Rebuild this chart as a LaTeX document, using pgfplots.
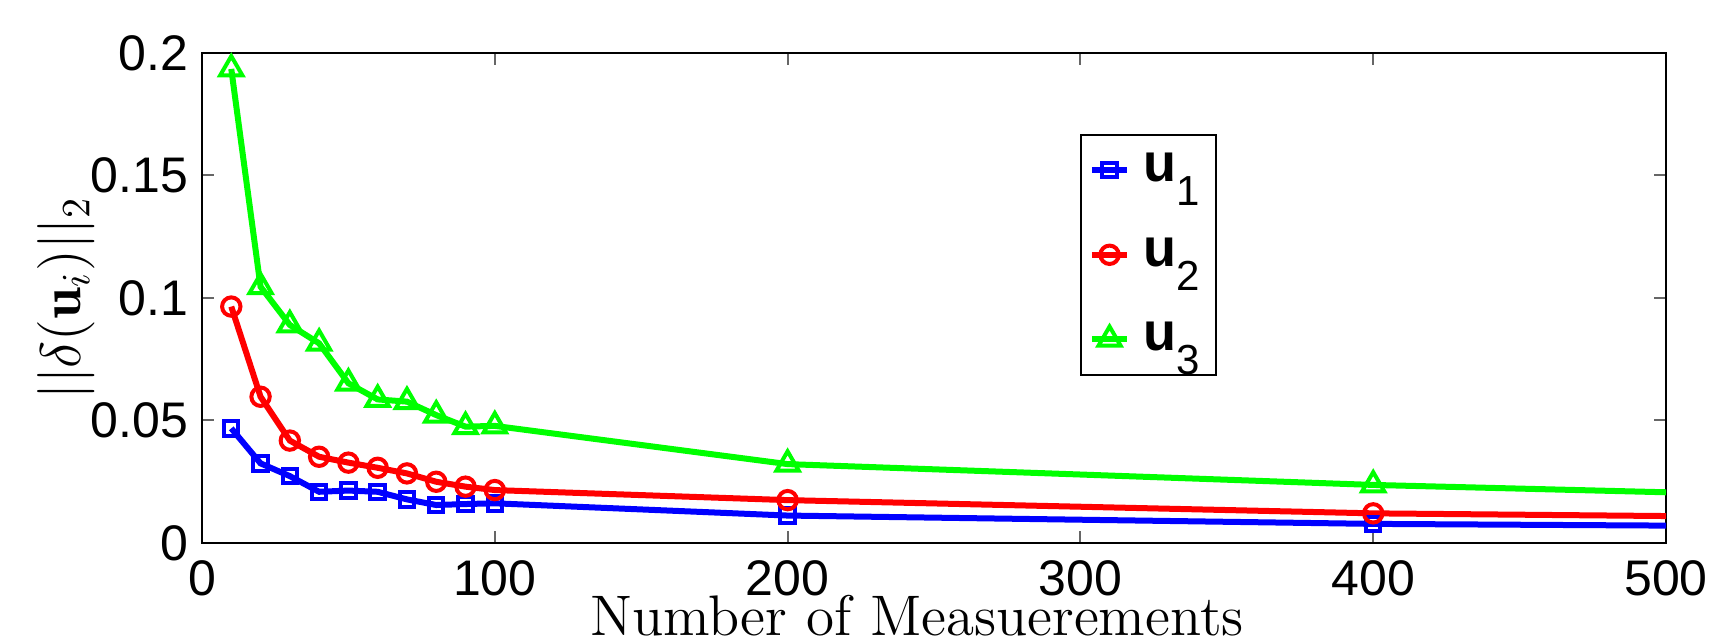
\RequirePackage{fix-cm}
\documentclass[border=0pt]{standalone}
\usepackage{pgfplots}
\pgfplotsset{compat=1.18}
\usepackage{fontspec}
\setsansfont{Liberation Sans}

\begin{document}
\begin{tikzpicture}
\begin{axis}[
  scale only axis,
  width=366pt, height=122.5pt,
  xmin=0, xmax=500, ymin=0, ymax=0.2,
  xtick={0,100,...,500},
  ytick={0,0.05,0.1,0.15,0.2},
  scaled y ticks=false,
  yticklabel style={/pgf/number format/fixed, /pgf/number format/precision=2},
  xticklabel style={inner sep=0.5pt, yshift=-3.7pt},
  /pgf/number format/assume math mode=true,
  tick label style={font=\sffamily\fontsize{12.5}{14}\selectfont},
  tick align=inside,
  major tick length=3pt,
  tick style={gray!80!black, line width=0.5pt},
  axis line style={line width=0.5pt},
  xlabel={Number of Measuerements},
  ylabel={$||\delta(\mathbf{u}_i)||_2$},
  label style={font=\fontsize{14.3}{16}\selectfont},
  xlabel style={at={(0.5,0)}, anchor=base, inner sep=0.5pt, yshift=-23.2pt, xshift=-4.25pt},
  ylabel style={yshift=-8pt},
  legend style={at={(0.5997,0.8347)}, anchor=north west, draw=black,
    line width=0.5pt, font=\sffamily\fontsize{13.5}{15}\selectfont,
    row sep=8.5pt, inner xsep=2pt, inner ysep=2.5pt},
  legend cell align=left,
  legend image code/.code={
    \draw[mark=none] (0pt,0pt) -- (8.75pt,0pt);
    \draw plot coordinates {(4.4pt,0pt)};},
  every axis plot/.append style={line width=1.5pt,
    mark indices={1,2,3,4,5,6,7,8,9,10,11,12}},
]
\addplot[blue, mark=square, mark size=1.8pt, mark options={line width=1pt}] coordinates {
(10,0.0468) (20,0.0325) (30,0.0273) (40,0.0209) (50,0.0214) (60,0.0209)
(70,0.0178) (80,0.0155) (90,0.0159) (100,0.0162) (200,0.0112) (400,0.0078)
(500,0.0071)};
\addlegendentry{\hspace{1.5pt}\textbf{u}\raisebox{-6pt}{\fontsize{10.5}{11}\selectfont 1}\hspace{-3pt}}
\addplot[red, mark=o, mark size=2.3pt, mark options={line width=1pt}] coordinates {
(10,0.0965) (20,0.0597) (30,0.0418) (40,0.0352) (50,0.0328) (60,0.0307)
(70,0.0284) (80,0.0250) (90,0.0230) (100,0.0216) (200,0.0175) (400,0.0121)
(500,0.0110)};
\addlegendentry{\hspace{1.5pt}\textbf{u}\raisebox{-6pt}{\fontsize{10.5}{11}\selectfont 2}\hspace{-3pt}}
\addplot[green, mark=triangle, mark size=3.2pt, mark options={line width=1pt}] coordinates {
(10,0.1935) (20,0.1046) (30,0.0890) (40,0.0815) (50,0.0652) (60,0.0586)
(70,0.0577) (80,0.0522) (90,0.0475) (100,0.0478) (200,0.0322) (400,0.0237)
(500,0.0207)};
\addlegendentry{\hspace{1.5pt}\textbf{u}\raisebox{-6pt}{\fontsize{10.5}{11}\selectfont 3}\rule[-19pt]{0pt}{19pt}\hspace{-3pt}}
\end{axis}
\pgfresetboundingbox
\path[use as bounding box] (-50.5pt,-24.25pt) rectangle (376.75pt,135.75pt);
\end{tikzpicture}
\end{document}
